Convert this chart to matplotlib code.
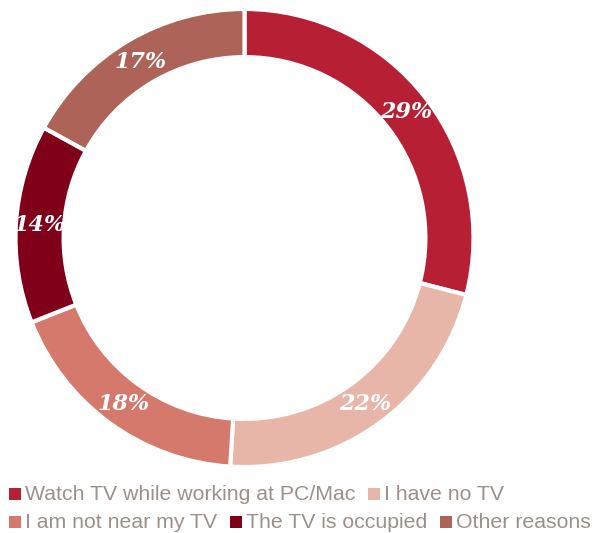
import numpy as np
import matplotlib.pyplot as plt
from matplotlib.patches import Rectangle

# reasons for watching TV online
categories = ["Watch TV while working at PC/Mac", "I have no TV",
              "I am not near my TV", "The TV is occupied", "Other reasons"]
shares = [29, 22, 18, 14, 17]
colors = ["#b71f35", "#e8b6a9", "#d4796c", "#80001a", "#ad6358"]
legend_rows = [[0, 1], [2, 3, 4]]

W, H = 606, 533
fig = plt.figure(figsize=(W / 100, H / 100), dpi=100)

# donut: center (244.5, 238) px, outer radius ~228 px
cx, cy, r = 244.5, 238, 229
ax = fig.add_axes([(cx - r) / W, (H - cy - r) / H, 2 * r / W, 2 * r / H])

ring = 0.21
wedges, _ = ax.pie(shares, colors=colors, startangle=90, counterclock=False,
                   radius=1, wedgeprops=dict(width=ring, edgecolor="white", linewidth=3))
ax.set_xlim(-1, 1)
ax.set_ylim(-1, 1)
ax.set_aspect("equal")
ax.axis("off")

# percentage labels in the middle of the ring
total = sum(shares)
start = 90
for val in shares:
    mid = np.deg2rad(start - 360 * val / total / 2)
    start -= 360 * val / total
    rr = 1 - ring / 2
    ax.text(rr * np.cos(mid), rr * np.sin(mid), f"{val}%", ha="center", va="center",
            color="white", fontsize=16, fontweight="bold", fontstyle="italic",
            family="DejaVu Serif")

# legend laid out in two flowing rows
fig.canvas.draw()
renderer = fig.canvas.get_renderer()
box = 12
baselines = [500, 528]
for row, base in zip(legend_rows, baselines):
    x = 9
    for i in row:
        fig.add_artist(Rectangle((x / W, (H - base) / H), box / W, box / H,
                                 transform=fig.transFigure, color=colors[i], lw=0))
        t = fig.text((x + box + 4) / W, (H - base) / H, categories[i], ha="left",
                     va="baseline", fontsize=15.3, color="#9b918a", family="Liberation Sans")
        w = t.get_window_extent(renderer).width
        x += box + 4 + w + 13

fig.savefig("out.png", dpi=100, facecolor="white")
